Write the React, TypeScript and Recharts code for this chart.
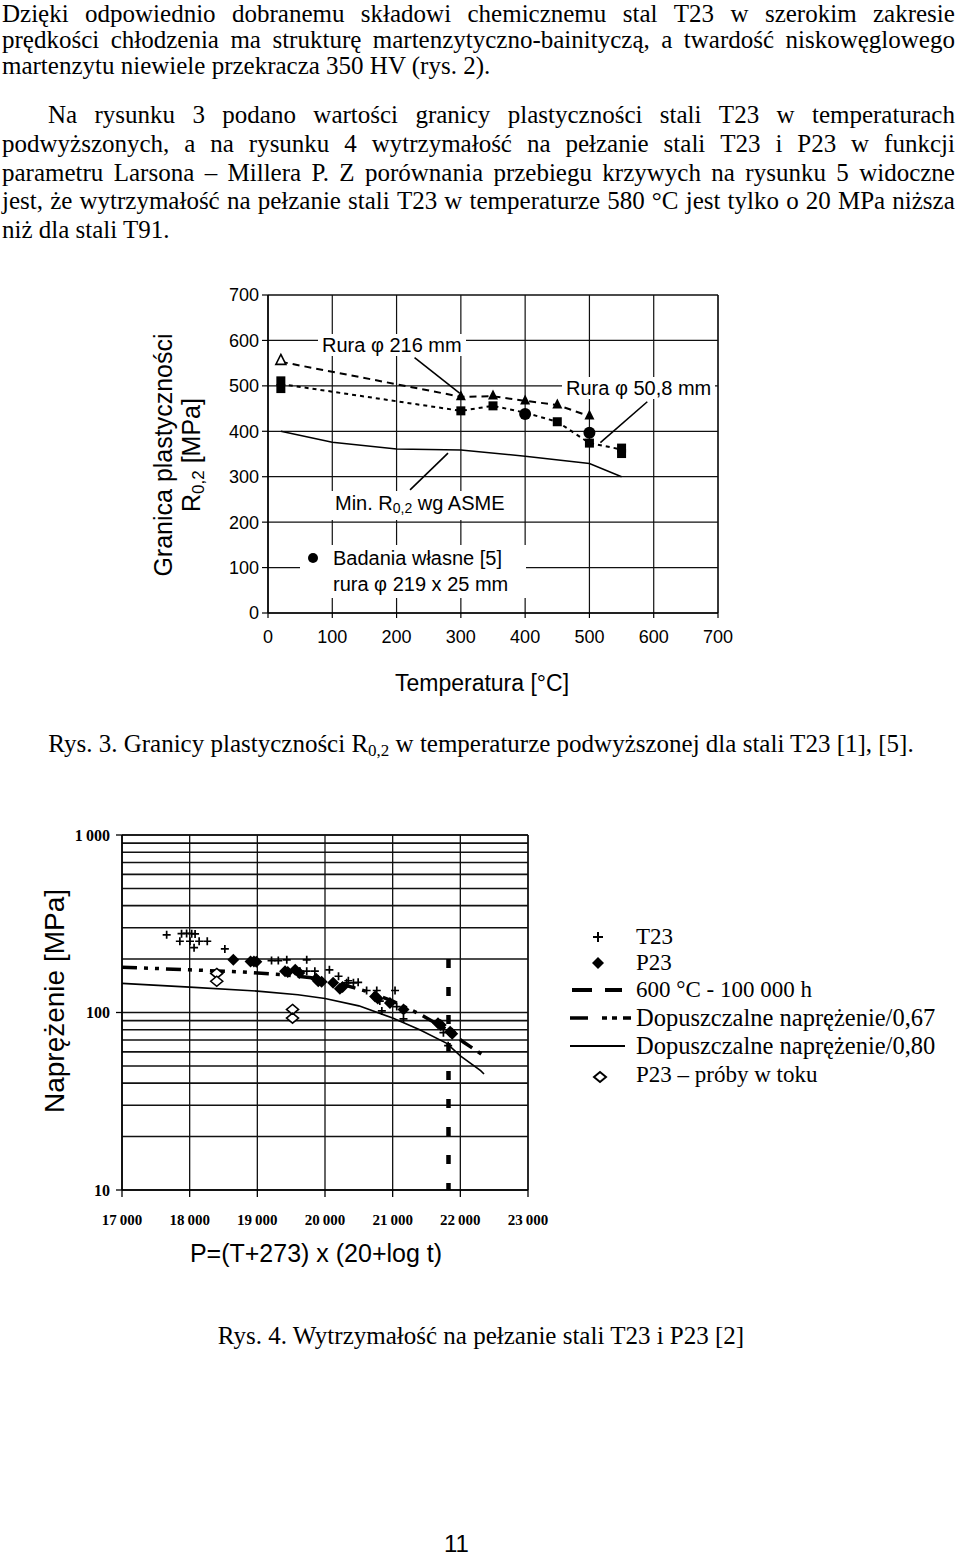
import React from "react";
import {
  ComposedChart,
  Scatter,
  XAxis,
  YAxis,
  CartesianGrid,
  ReferenceLine,
} from "recharts";

const serif = "'Liberation Serif', 'Times New Roman', serif";
const sans = "'Liberation Sans', Arial, sans-serif";

// ---- Rys. 3: granica plastycznosci R0,2 vs temperatura
const tempTicks = [0, 100, 200, 300, 400, 500, 600, 700];
const r02Ticks = [0, 100, 200, 300, 400, 500, 600, 700];

// rura fi 216 mm (triangles, dashed)
const rura216Line = [
  { t: 20, r: 553 },
  { t: 300, r: 476 },
  { t: 350, r: 477 },
  { t: 400, r: 467 },
  { t: 450, r: 458 },
  { t: 500, r: 433 },
];
const rura216Open = [{ t: 20, r: 556 }];
const rura216Pts = [
  { t: 300, r: 477 },
  { t: 350, r: 479 },
  { t: 400, r: 468 },
  { t: 450, r: 459 },
  { t: 500, r: 435 },
];

// rura fi 50,8 mm (squares, dotted)
const rura508Line = [
  { t: 20, r: 504 },
  { t: 300, r: 445 },
  { t: 350, r: 456 },
  { t: 400, r: 441 },
  { t: 450, r: 421 },
  { t: 500, r: 374 },
  { t: 550, r: 360 },
];
const rura508Pts = [
  { t: 20, r: 511 },
  { t: 20, r: 494 },
  { t: 300, r: 445 },
  { t: 350, r: 456 },
  { t: 450, r: 421 },
  { t: 500, r: 374 },
  { t: 550, r: 363 },
  { t: 550, r: 351 },
];

// badania wlasne [5]
const badaniaPts = [
  { t: 400, r: 438 },
  { t: 500, r: 397 },
];

// min. R0,2 wg ASME
const asmeMin = [
  { t: 20, r: 400 },
  { t: 100, r: 376 },
  { t: 200, r: 361 },
  { t: 300, r: 359 },
  { t: 400, r: 345 },
  { t: 500, r: 329 },
  { t: 550, r: 300 },
];

// leader lines of the labels
const lead216 = [{ x: 228, y: 562 }, { x: 298, y: 484 }];
const lead508 = [{ x: 590, y: 465 }, { x: 517, y: 375 }];
const leadAsme = [{ x: 221, y: 271 }, { x: 280, y: 352 }];

// ---- Rys. 4: naprezenie vs parametr Larsona-Millera
const pTicks = [17000, 18000, 19000, 20000, 21000, 22000, 23000];
const pTickLabels = ["17\u2009000", "18\u2009000", "19\u2009000", "20\u2009000", "21\u2009000", "22\u2009000", "23\u2009000"];
const sTicks = [10, 100, 1000];
const sTickLabels = ["10", "100", "1\u2009000"];
const sMinor = [20, 30, 40, 50, 60, 70, 80, 90, 200, 300, 400, 500, 600, 700, 800, 900];

const t23 = [
  { p: 17660, s: 274 }, { p: 17880, s: 278 }, { p: 17955, s: 279 }, { p: 18030, s: 278 },
  { p: 18080, s: 277 }, { p: 17855, s: 252 }, { p: 18005, s: 252 }, { p: 18140, s: 252 },
  { p: 18260, s: 252 }, { p: 18065, s: 232 }, { p: 18520, s: 228 }, { p: 19210, s: 196 },
  { p: 19310, s: 196 }, { p: 19435, s: 198 }, { p: 19730, s: 198 }, { p: 19630, s: 171 },
  { p: 19730, s: 171 }, { p: 19850, s: 171 }, { p: 20065, s: 174 }, { p: 20200, s: 160 },
  { p: 20320, s: 147 }, { p: 20345, s: 151 }, { p: 20420, s: 147 }, { p: 20490, s: 148 },
  { p: 20615, s: 133 }, { p: 20765, s: 133 }, { p: 21035, s: 133 }, { p: 20810, s: 116 },
  { p: 20840, s: 102 }, { p: 21060, s: 108 }, { p: 21160, s: 92 }, { p: 21750, s: 77 },
  { p: 21820, s: 65 },
];
const p23 = [
  { p: 18645, s: 198 }, { p: 18900, s: 194 }, { p: 18950, s: 194 }, { p: 18985, s: 193 },
  { p: 19410, s: 171 }, { p: 19450, s: 169 }, { p: 19560, s: 174 }, { p: 19620, s: 167 },
  { p: 19870, s: 155 }, { p: 19900, s: 150 }, { p: 19950, s: 149 }, { p: 20120, s: 147 },
  { p: 20220, s: 136 }, { p: 20260, s: 139 }, { p: 20740, s: 123 }, { p: 20780, s: 120 },
  { p: 20960, s: 113 }, { p: 21160, s: 104 }, { p: 21670, s: 87 }, { p: 21710, s: 85 },
  { p: 21850, s: 78 }, { p: 21880, s: 76 },
];
const p23Open = [
  { p: 18400, s: 166 }, { p: 18400, s: 150 }, { p: 19520, s: 104 }, { p: 19520, s: 93 },
];
const line600 = [{ p: 21825, s: 200 }, { p: 21825, s: 10 }];
const allow067 = [
  { p: 17000, s: 180 }, { p: 18000, s: 174 }, { p: 18800, s: 169 }, { p: 19400, s: 163 },
  { p: 19800, s: 157 }, { p: 20200, s: 146 }, { p: 20600, s: 132 }, { p: 21000, s: 116 },
  { p: 21400, s: 98 }, { p: 21800, s: 80 }, { p: 22050, s: 68 }, { p: 22350, s: 57 },
];
const allow080 = [
  { p: 17000, s: 146 }, { p: 18000, s: 139 }, { p: 19000, s: 132 }, { p: 19600, s: 126 },
  { p: 20000, s: 120 }, { p: 20500, s: 109 }, { p: 21000, s: 93 }, { p: 21400, s: 80 },
  { p: 21800, s: 67 }, { p: 22000, s: 57 }, { p: 22300, s: 47 }, { p: 22350, s: 45 },
];

// ---- marker shapes
const noDot = () => <g />;
const triOpen = (p: any) => (
  <path d={`M${p.cx},${p.cy - 6}L${p.cx + 5},${p.cy + 4}L${p.cx - 5},${p.cy + 4}Z`} fill="#fff" stroke="#000" strokeWidth={1.6} />
);
const triFilled = (p: any) => (
  <path d={`M${p.cx},${p.cy - 6}L${p.cx + 5},${p.cy + 4}L${p.cx - 5},${p.cy + 4}Z`} fill="#000" />
);
const squareDot = (p: any) => <rect x={p.cx - 4.5} y={p.cy - 4.5} width={9} height={9} fill="#000" />;
const circleDot = (p: any) => <circle cx={p.cx} cy={p.cy} r={6} fill="#000" />;
const plusDot = (p: any) => (
  <path d={`M${p.cx - 4},${p.cy}h8M${p.cx},${p.cy - 4}v8`} stroke="#000" strokeWidth={1.7} />
);
const diamondDot = (p: any) => (
  <path d={`M${p.cx},${p.cy - 6}L${p.cx + 6},${p.cy}L${p.cx},${p.cy + 6}L${p.cx - 6},${p.cy}Z`} fill="#000" />
);
const diamondOpen = (p: any) => (
  <path d={`M${p.cx},${p.cy - 5}L${p.cx + 6},${p.cy}L${p.cx},${p.cy + 5}L${p.cx - 6},${p.cy}Z`} fill="#fff" stroke="#000" strokeWidth={1.6} />
);

// ---- page text
const para1 = [
  { text: "Dzięki odpowiednio dobranemu składowi chemicznemu stal T23 w szerokim zakresie", full: true, left: 2, top: 0 },
  { text: "prędkości chłodzenia ma strukturę martenzytyczno-bainityczą, a twardość niskowęglowego", full: true, left: 2, top: 26 },
  { text: "martenzytu niewiele przekracza 350 HV (rys. 2).", full: false, left: 2, top: 52 },
];
const para2 = [
  { text: "Na rysunku 3 podano wartości granicy plastyczności stali T23 w temperaturach", full: true, left: 48, top: 100.6 },
  { text: "podwyższonych, a na rysunku 4 wytrzymałość na pełzanie stali T23 i P23 w funkcji", full: true, left: 2, top: 129.6 },
  { text: "parametru Larsona – Millera P. Z porównania przebiegu krzywych na rysunku 5 widoczne", full: true, left: 2, top: 158.6 },
  { text: "jest, że wytrzymałość na pełzanie stali T23 w temperaturze 580 °C jest tylko o 20 MPa niższa", full: true, left: 2, top: 187 },
  { text: "niż dla stali T91.", full: false, left: 2, top: 215.6 },
];

function TextLine({ text, full, left, top }: { text: string; full: boolean; left: number; top: number }) {
  const base: React.CSSProperties = {
    position: "absolute",
    left,
    top,
    fontFamily: serif,
    fontSize: 25,
    lineHeight: "28px",
    whiteSpace: "nowrap",
    color: "#000",
  };
  if (!full) return <div style={base}>{text}</div>;
  return (
    <div style={{ ...base, width: 955 - left, display: "flex", justifyContent: "space-between" }}>
      {text.split(" ").map((w, i) => (
        <span key={i}>{w}</span>
      ))}
    </div>
  );
}

const tickSans = { fill: "#000", fontSize: 18, fontFamily: sans };
const tickBold = { fill: "#000", fontSize: 15, fontWeight: 700, fontFamily: serif };

function YieldChart() {
  return (
    <div style={{ position: "absolute", left: 200, top: 280 }}>
      <ComposedChart width={540} height={380} margin={{ top: 15, right: 22, left: 0, bottom: 0 }}>
        <CartesianGrid stroke="#111" strokeWidth={1.2} />
        <XAxis
          type="number"
          dataKey="t"
          domain={[0, 700]}
          ticks={tempTicks}
          height={47}
          tickSize={5}
          tickMargin={12}
          axisLine={{ stroke: "#000", strokeWidth: 1.5 }}
          tickLine={{ stroke: "#000", strokeWidth: 1.2 }}
          tick={tickSans}
        />
        <YAxis
          type="number"
          dataKey="r"
          domain={[0, 700]}
          ticks={r02Ticks}
          width={68}
          tickSize={6}
          tickMargin={3}
          axisLine={{ stroke: "#000", strokeWidth: 1.5 }}
          tickLine={{ stroke: "#000", strokeWidth: 1.2 }}
          tick={tickSans}
        />
        <ReferenceLine x={700} stroke="#111" strokeWidth={1.2} />
        <ReferenceLine y={700} stroke="#111" strokeWidth={1.2} />
        <Scatter data={asmeMin} line={{ stroke: "#000", strokeWidth: 1.5 }} shape={noDot} isAnimationActive={false} />
        <Scatter
          data={rura216Line}
          line={{ stroke: "#000", strokeWidth: 2, strokeDasharray: "7 5" }}
          shape={noDot}
          isAnimationActive={false}
        />
        <Scatter
          data={rura508Line}
          line={{ stroke: "#000", strokeWidth: 2, strokeDasharray: "4 4" }}
          shape={noDot}
          isAnimationActive={false}
        />
        <Scatter data={rura216Open} shape={triOpen} isAnimationActive={false} />
        <Scatter data={rura216Pts} shape={triFilled} isAnimationActive={false} />
        <Scatter data={rura508Pts} shape={squareDot} isAnimationActive={false} />
        <Scatter data={badaniaPts} shape={circleDot} isAnimationActive={false} />
        <ReferenceLine segment={lead216} stroke="#000" strokeWidth={1.6} />
        <ReferenceLine segment={lead508} stroke="#000" strokeWidth={1.6} />
        <ReferenceLine segment={leadAsme} stroke="#000" strokeWidth={1.6} />
      </ComposedChart>
    </div>
  );
}

function CreepChart() {
  return (
    <div style={{ position: "absolute", left: 60, top: 820 }}>
      <ComposedChart width={500} height={420} margin={{ top: 15, right: 32, left: 0, bottom: 0 }}>
        <CartesianGrid stroke="#111" strokeWidth={1.3} />
        {sMinor.map((v) => (
          <ReferenceLine key={v} y={v} stroke="#111" strokeWidth={1.6} />
        ))}
        <ReferenceLine x={23000} stroke="#111" strokeWidth={1.4} />
        <ReferenceLine y={1000} stroke="#111" strokeWidth={1.6} />
        <XAxis
          type="number"
          dataKey="p"
          domain={[17000, 23000]}
          ticks={pTicks}
          tickFormatter={(v: number) => pTickLabels[pTicks.indexOf(v)]}
          height={50}
          tickSize={7}
          tickMargin={17}
          axisLine={{ stroke: "#000", strokeWidth: 1.6 }}
          tickLine={{ stroke: "#000", strokeWidth: 1.3 }}
          tick={tickBold}
        />
        <YAxis
          type="number"
          dataKey="s"
          scale="log"
          domain={[10, 1000]}
          allowDataOverflow
          ticks={sTicks}
          tickFormatter={(v: number) => sTickLabels[sTicks.indexOf(v)]}
          width={62}
          tickSize={6}
          tickMargin={6}
          axisLine={{ stroke: "#000", strokeWidth: 1.6 }}
          tickLine={{ stroke: "#000", strokeWidth: 1.3 }}
          tick={{ ...tickBold, fontSize: 16 }}
        />
        <Scatter data={allow080} line={{ stroke: "#000", strokeWidth: 1.6 }} shape={noDot} isAnimationActive={false} />
        <Scatter
          data={allow067}
          line={{ stroke: "#000", strokeWidth: 3.5, strokeDasharray: "15 7 4 7 4 7" }}
          shape={noDot}
          isAnimationActive={false}
        />
        <Scatter
          data={line600}
          line={{ stroke: "#000", strokeWidth: 4.5, strokeDasharray: "9 19" }}
          shape={noDot}
          isAnimationActive={false}
        />
        <Scatter data={t23} shape={plusDot} isAnimationActive={false} />
        <Scatter data={p23} shape={diamondDot} isAnimationActive={false} />
        <Scatter data={p23Open} shape={diamondOpen} isAnimationActive={false} />
      </ComposedChart>
    </div>
  );
}

const labelBox: React.CSSProperties = {
  position: "absolute",
  background: "#fff",
  fontFamily: sans,
  fontSize: 20,
  lineHeight: "22px",
  whiteSpace: "nowrap",
  color: "#000",
};

const legendRows = [
  { text: "T23", size: 23, center: 937 },
  { text: "P23", size: 23, center: 963 },
  { text: "600 °C - 100 000 h", size: 23, center: 990 },
  { text: "Dopuszczalne naprężenie/0,67", size: 24.5, center: 1018 },
  { text: "Dopuszczalne naprężenie/0,80", size: 24.5, center: 1046 },
  { text: "P23 – próby w toku", size: 23, center: 1075 },
];

export default function App() {
  return (
    <div style={{ position: "absolute", left: 0, top: 0, width: 960, height: 1562, background: "#fff", overflow: "hidden" }}>
      {para1.map((l, i) => (
        <TextLine key={`a${i}`} {...l} />
      ))}
      {para2.map((l, i) => (
        <TextLine key={`b${i}`} {...l} />
      ))}

      <YieldChart />
      {/* labels of Rys. 3 */}
      <div style={{ ...labelBox, left: 318, top: 334, padding: "0 4px" }}>Rura φ 216 mm</div>
      <div style={{ ...labelBox, left: 562, top: 377, padding: "0 4px" }}>Rura φ 50,8 mm</div>
      <div style={{ ...labelBox, left: 330, top: 491, padding: "1px 5px" }}>
        Min. R<sub style={{ fontSize: 14, verticalAlign: "-3px" }}>0,2</sub> wg ASME
      </div>
      <div style={{ ...labelBox, left: 300, top: 545, width: 226, height: 53 }}>
        <div style={{ position: "absolute", left: 8, top: 8, width: 10, height: 10, borderRadius: 5, background: "#000" }} />
        <div style={{ position: "absolute", left: 33, top: 2 }}>Badania własne [5]</div>
        <div style={{ position: "absolute", left: 33, top: 28 }}>rura φ 219 x 25 mm</div>
      </div>
      <div
        style={{
          position: "absolute",
          left: 27,
          top: 427,
          width: 300,
          height: 56,
          transform: "rotate(-90deg)",
          textAlign: "center",
          fontFamily: sans,
          fontSize: 25,
          lineHeight: "28px",
        }}
      >
        <div>Granica plastyczności</div>
        <div>
          R<sub style={{ fontSize: 17, verticalAlign: "-4px" }}>0,2</sub> [MPa]
        </div>
      </div>
      <div style={{ position: "absolute", left: 332, top: 669, width: 300, textAlign: "center", fontFamily: sans, fontSize: 23, lineHeight: "28px" }}>
        Temperatura [°C]
      </div>

      <div style={{ position: "absolute", left: 0, top: 729.6, width: 962, textAlign: "center", fontFamily: serif, fontSize: 25, lineHeight: "28px", whiteSpace: "nowrap" }}>
        Rys. 3. Granicy plastyczności R<sub style={{ fontSize: 17, verticalAlign: "-4px" }}>0,2</sub> w temperaturze podwyższonej dla stali T23 [1], [5].
      </div>

      <CreepChart />
      <div
        style={{
          position: "absolute",
          left: -95,
          top: 985,
          width: 300,
          height: 32,
          transform: "rotate(-90deg)",
          textAlign: "center",
          fontFamily: sans,
          fontSize: 28,
          lineHeight: "32px",
        }}
      >
        Naprężenie [MPa]
      </div>
      <div style={{ position: "absolute", left: 166, top: 1238, width: 300, textAlign: "center", fontFamily: sans, fontSize: 25, lineHeight: "30px", whiteSpace: "nowrap" }}>
        P=(T+273) x (20+log t)
      </div>

      {/* legend of Rys. 4 */}
      <svg style={{ position: "absolute", left: 560, top: 920 }} width={80} height={170}>
        <path d="M33,17h10M38,12v10" stroke="#000" strokeWidth={2} />
        <path d="M38,37L44,43L38,49L32,43Z" fill="#000" />
        <path d="M12,70h20M45,70h17" stroke="#000" strokeWidth={4} />
        <path d="M10,98h18M42,98h5M52,98h5M63,98h8" stroke="#000" strokeWidth={3.5} />
        <path d="M10,126h55" stroke="#000" strokeWidth={1.8} />
        <path d="M40,152L46,157L40,162L34,157Z" fill="#fff" stroke="#000" strokeWidth={2} />
      </svg>
      {legendRows.map((r) => (
        <div
          key={r.text}
          style={{
            position: "absolute",
            left: 636,
            top: r.center - (r.size > 24 ? 14.2 : 13.2),
            fontFamily: serif,
            fontSize: r.size,
            lineHeight: r.size > 24 ? "28px" : "26px",
            whiteSpace: "nowrap",
          }}
        >
          {r.text}
        </div>
      ))}

      <div style={{ position: "absolute", left: 0, top: 1321.6, width: 962, textAlign: "center", fontFamily: serif, fontSize: 25, lineHeight: "28px", whiteSpace: "nowrap" }}>
        Rys. 4. Wytrzymałość na pełzanie stali T23 i P23 [2]
      </div>
      <div style={{ position: "absolute", left: 444, top: 1530, fontFamily: sans, fontSize: 24, lineHeight: "28px" }}>11</div>
    </div>
  );
}
